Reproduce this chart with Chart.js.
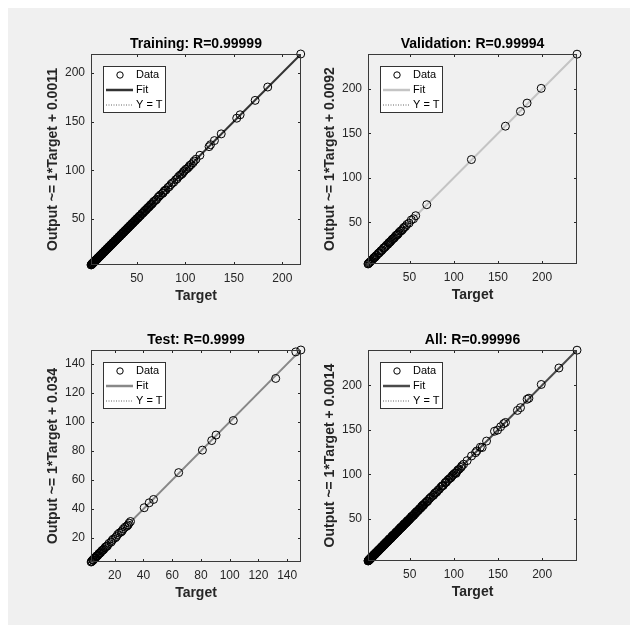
<!DOCTYPE html>
<html><head><meta charset="utf-8">
<script src="https://cdn.jsdelivr.net/npm/chart.js@4.4.1/dist/chart.umd.min.js"></script>
<style>
html,body{margin:0;padding:0;background:#fff;width:630px;height:625px;overflow:hidden;}
#bg{position:absolute;left:8px;top:8px;width:622px;height:617px;background:#f0f0f0;}
canvas{position:absolute;}
</style></head><body>
<div id="bg"></div>
<canvas id="c0"></canvas><canvas id="c1"></canvas><canvas id="c2"></canvas><canvas id="c3"></canvas>
<script>
// ---- data ----
const trainTarget = [219,185,172,156.5,153,137,130,126,124.5,115,109,106,103.5,100.5,98,96,93,90,88,85,82,80,78,76.5,74.5,72,69.5,68,66,64.5,63,61.5,60,58.5,57,55.5,54,52.8,51.5,50.2,49,47.8,46.5,45.3,44.1,43,41.8,40.6,39.5,38.3,37.2,36,35.1,34,32.9,31.8,30.7,29.6,28.5,27.5,26.4,25.3,24.3,23.2,22.2,21.1,20.1,19.1,18.2,17.2,16.3,15.3,14.4,13.5,12.6,11.7,10.9,10,9.2,8.4,7.7,7,6.3,5.7,5.1,4.5,4,3.5,3.1,2.7,
  3.3,3.8,4.2,4.8,5.4,6,6.6,7.3,8,8.8,9.6,10.4,11.3,12.1,13,13.9,14.8,15.7,16.7,17.6,18.6,19.6,20.6,21.6,22.7,23.7,24.8,25.8,26.9,28,29,30.1,31.2,32.3,33.4,34.5,35.6,36.6,37.7,38.8,39.9,41.1,42.2,43.4,44.6,45.8,47,48.3,49.5,51,52.2,53.4,55,56.2,57.6,59,60.6,62.2,63.7,65.2,67,70.5,73,77,79,83.5,86.5,91.5,94.5,97,99,102,104.5,108,111];
const trainOutput = [219.3,185.4,171.7,156.9,153.4,137.3,130.4,126.2,124.2,115.3,109.4,105.8,103.2,100.9,98.3,95.7,93.4,90.2,87.7,85.3,82.2,79.7,78.3,76.2,74.8,72.3,69.2,68.3,65.8,64.7,62.8,61.7,59.8,58.7,56.8,55.7,53.8,53,51.3,50.4,48.8,48,46.3,45.5,43.9,43.2,41.6,40.8,39.3,38.5,37,36.2,34.9,34.2,32.7,32,30.5,29.8,28.3,27.7,26.2,25.5,24.1,23.4,22,21.3,19.9,19.3,18,17.4,16.1,15.5,14.2,13.7,12.4,11.9,10.7,10.2,9,8.6,7.5,7.2,6.1,5.9,4.9,4.7,3.8,3.7,2.9,2.8,
  3.4,3.6,4.4,4.6,5.6,5.8,6.8,7.1,8.2,8.6,9.8,10.2,11.5,11.9,13.2,13.7,15,15.5,16.9,17.4,18.8,19.4,20.8,21.4,22.9,23.5,25,25.6,27.1,27.8,29.2,29.9,31.4,32.1,33.6,34.3,35.8,36.4,37.9,38.6,40.1,40.9,42.4,43.2,44.8,45.6,47.2,48.1,49.7,50.8,52.4,53.2,55.2,56,57.8,58.8,60.8,62,63.9,65,67.3,70.2,73.3,76.7,79.3,83.2,86.8,91.2,94.8,96.7,99.3,101.7,104.8,107.7,111.3];
const valTarget = [239.5,199,183,175.5,158.5,120,69.5,57,54.5,52,49.5,47,44,42,39.5,37,35,33,31,29,27,25.5,24,22,20.5,19,17.5,16,14.5,13,12,10.5,9.5,8.5,7.5,6.5,5.5,4.8,4,3.4,3,
  10,11.2,15.2,18.2,21,23,26.3,28,30,32,34,36,38,40.7,43,45.5];
const valOutput = [239.3,200.8,184.2,174.8,158.2,120.6,69.8,57.4,53.9,52.6,49.1,47.5,44.4,41.6,39.9,36.7,35.4,32.7,31.3,28.8,27.3,25.1,24.3,21.8,20.7,18.8,17.7,15.8,14.7,12.9,12.2,10.4,9.7,8.4,7.6,6.4,5.6,4.7,4.1,3.3,3.1,
  10.3,11,15.4,18,21.3,22.8,26.5,27.7,30.3,31.8,34.3,35.8,38.3,40.4,43.3,45.2];
const testTarget = [149.5,146,132,102.5,90.5,87.5,81,64.5,47,44,40.5,31,30,28.5,26,24.5,22,20.5,19,17.5,16,15,13.8,12.5,11.4,10.3,9.3,8.4,7.6,6.8,6,5.3,4.7,4.1,3.6,
  3.9,5,5.7,6.4,7.2,8,8.9,9.8,10.8,11.9,13.2,14.4,18.2,21.2,23.2,25.2,27.2,29.3];
const testOutput = [149.6,148.3,130,101,91,87.2,80.6,65.1,46.6,44.3,40.9,31.4,30.3,28.2,26.3,24.2,22.4,20.2,19.3,17.2,16.3,14.7,14,12.3,11.6,10.1,9.5,8.2,7.8,6.6,6.2,5.1,4.9,3.9,3.5,
  4,4.8,5.9,6.3,7.4,7.8,9.1,9.6,11,11.7,13.4,14.2,18.4,21,23.5,25,27.5,29];
const panelTitles = ['Training: R=0.99999','Validation: R=0.99994','Test: R=0.9999','All: R=0.99996'];
const yLabels = ['Output ~= 1*Target + 0.0011','Output ~= 1*Target + 0.0092','Output ~= 1*Target + 0.034','Output ~= 1*Target + 0.0014'];
const fitSlope = [1,1,1,1];
const fitIntercept = [0.0011,0.0092,0.034,0.0014];
const ticksA = [50,100,150,200];
const ticksB = [20,40,60,80,100,120,140];
const legendLabels = ['Data','Fit','Y = T'];
const xLabel = 'Target';

const FONT = '"Liberation Sans", Arial, Helvetica, sans-serif';

const framePlugin = {
  id:'frame',
  afterDatasetsDraw(chart){
    const {ctx, chartArea:a, scales:{x,y}} = chart;
    const tl = 3;
    ctx.save();
    ctx.strokeStyle = '#262626';
    ctx.lineWidth = 1;
    ctx.beginPath();
    x.ticks.forEach(t=>{
      const px = Math.round(x.getPixelForValue(t.value))+0.5;
      ctx.moveTo(px,a.bottom); ctx.lineTo(px,a.bottom-tl);
      ctx.moveTo(px,a.top); ctx.lineTo(px,a.top+tl);
    });
    y.ticks.forEach(t=>{
      const py = Math.round(y.getPixelForValue(t.value))+0.5;
      ctx.moveTo(a.left,py); ctx.lineTo(a.left+tl,py);
      ctx.moveTo(a.right,py); ctx.lineTo(a.right-tl,py);
    });
    ctx.stroke();
    ctx.strokeStyle = '#3a3a3a';
    ctx.strokeRect(a.left+0.5, a.top+0.5, a.right-a.left-1, a.bottom-a.top-1);
    // legend
    const ds = chart.data.datasets;
    const bx = a.left+12, by = a.top+12, bw = 62, bh = 46;
    ctx.fillStyle = '#fff';
    ctx.fillRect(bx, by, bw, bh);
    ctx.strokeStyle = '#333';
    ctx.strokeRect(bx+0.5, by+0.5, bw, bh);
    const rows = [by+9, by+24, by+38.5];
    ctx.beginPath(); ctx.arc(bx+17, rows[0], 3.2, 0, Math.PI*2);
    ctx.strokeStyle = '#000'; ctx.lineWidth = 1; ctx.stroke();
    ctx.beginPath(); ctx.moveTo(bx+3, rows[1]); ctx.lineTo(bx+30, rows[1]);
    ctx.strokeStyle = ds[1].borderColor; ctx.lineWidth = 2.5; ctx.stroke();
    ctx.beginPath(); ctx.setLineDash([1,1.5]); ctx.moveTo(bx+3, rows[2]+0.5); ctx.lineTo(bx+30, rows[2]+0.5);
    ctx.strokeStyle = '#666'; ctx.lineWidth = 1; ctx.stroke(); ctx.setLineDash([]);
    ctx.fillStyle = '#000';
    ctx.font = '11px '+FONT;
    ctx.textBaseline = 'middle'; ctx.textAlign = 'left';
    legendLabels.forEach((s,i)=>ctx.fillText(s, bx+33, rows[i]));
    ctx.restore();
  }
};

function makeChart(id, rect, tx, ty, k, tickVals, fitColor){
  const cv = document.getElementById(id);
  const W = rect.R - rect.L + 92, H = rect.B - rect.T + 75;
  cv.width = W; cv.height = H;
  cv.style.width = W+'px'; cv.style.height = H+'px';
  cv.style.left = (rect.L-72)+'px'; cv.style.top = (rect.T-30)+'px';
  const n = Math.min(tx.length, ty.length);
  const vals = tx.slice(0,n).concat(ty.slice(0,n));
  const lo = Math.min(...vals), hi = Math.max(...vals);
  const pts = tx.slice(0,n).map((t,i)=>({x:t, y:ty[i]}));
  const m = fitSlope[k], b = fitIntercept[k];
  const tickCfg = {padding:6, color:'#262626', font:{family:FONT, size:12}, maxRotation:0, autoSkip:false};
  new Chart(cv, {
    type:'scatter',
    data:{datasets:[
      {label:legendLabels[0], data:pts, pointStyle:'circle', pointRadius:4, pointHoverRadius:4,
       borderColor:'#000', backgroundColor:'rgba(0,0,0,0)', pointBorderWidth:1, borderWidth:1, clip:false},
      {label:legendLabels[1], data:[{x:lo,y:m*lo+b},{x:hi,y:m*hi+b}], showLine:true, pointRadius:0,
       borderColor:fitColor, borderWidth:2},
      {label:legendLabels[2], data:[{x:lo,y:lo},{x:hi,y:hi}], showLine:true, pointRadius:0,
       borderColor:'#222', borderWidth:1, borderDash:[1,2]}
    ]},
    options:{
      responsive:false, animation:false, events:[],
      layout:{padding:{left:0, top:0, right:20, bottom:0}},
      plugins:{
        legend:{display:false}, tooltip:{enabled:false},
        title:{display:true, text:panelTitles[k], fullSize:false, color:'#000',
               font:{family:FONT, size:14, weight:'bold'}, padding:{top:11.6, bottom:1.6}}
      },
      scales:{
        x:{type:'linear', min:lo, max:hi,
           afterBuildTicks:s=>{s.ticks = tickVals.map(v=>({value:v}));},
           afterFit:s=>{s.height = 45;},
           grid:{display:false, drawTicks:false}, border:{display:false},
           ticks:tickCfg,
           title:{display:true, text:xLabel, color:'#262626', font:{family:FONT, size:14, weight:'bold'}, padding:{top:0, bottom:5.9}}},
        y:{type:'linear', min:lo, max:hi,
           afterBuildTicks:s=>{s.ticks = tickVals.map(v=>({value:v}));},
           afterFit:s=>{s.width = 72;},
           grid:{display:false, drawTicks:false}, border:{display:false},
           ticks:tickCfg,
           title:{display:true, text:yLabels[k], color:'#262626', font:{family:FONT, size:14, weight:'bold'}, padding:{top:25.6, bottom:0}}}
      }
    },
    plugins:[framePlugin]
  });
}

const allTarget = trainTarget.concat(valTarget, testTarget);
const allOutput = trainOutput.concat(valOutput, testOutput);

makeChart('c0', {L:91, T:54, R:301, B:265}, trainTarget, trainOutput, 0, ticksA, '#333333');
makeChart('c1', {L:368, T:54, R:577, B:264}, valTarget, valOutput, 1, ticksA, '#c4c4c4');
makeChart('c2', {L:91, T:350, R:301, B:562}, testTarget, testOutput, 2, ticksB, '#888888');
makeChart('c3', {L:368, T:350, R:577, B:561}, allTarget, allOutput, 3, ticksA, '#4a4a4a');
</script>
</body></html>
